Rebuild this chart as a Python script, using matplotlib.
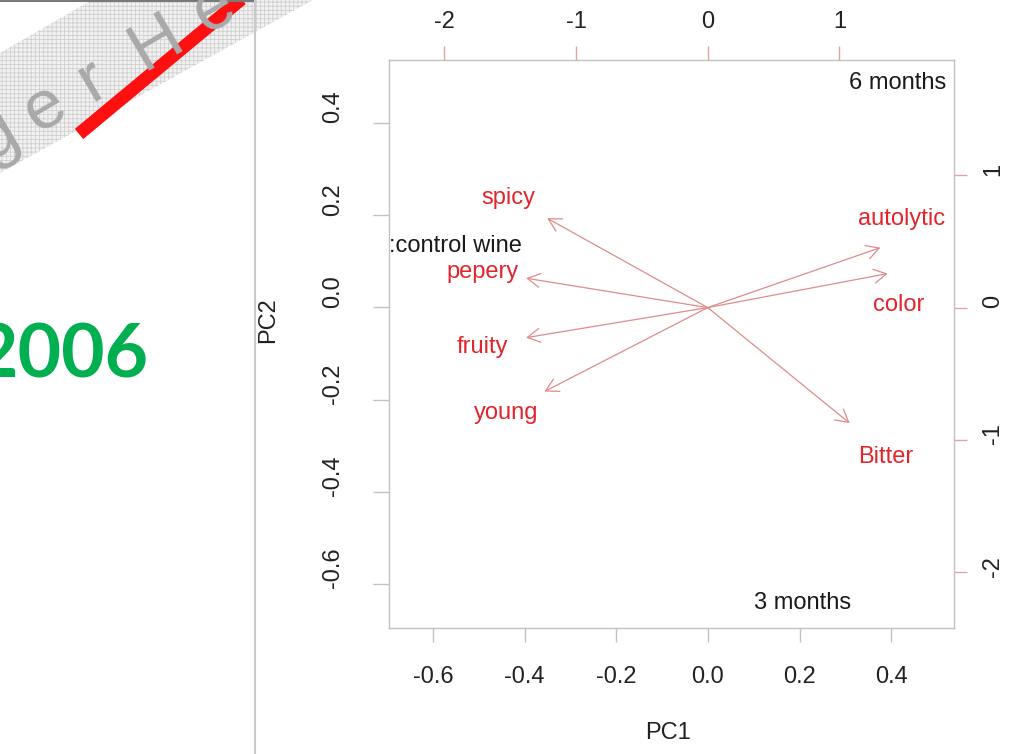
import matplotlib
matplotlib.use('Agg')
import matplotlib.pyplot as plt
from matplotlib.patches import Polygon
from matplotlib.transforms import ScaledTranslation
import numpy as np

plt.rcParams['font.family'] = ['Liberation Sans', 'DejaVu Sans']
plt.rcParams['hatch.linewidth'] = 0.6

# ---------------- data ----------------
variables = ['spicy', 'pepery', 'fruity', 'young', 'autolytic', 'color', 'Bitter']
load_pc1 = [-1.219, -1.379, -1.379, -1.240, 1.311, 1.367, 1.078]
load_pc2 = [0.675, 0.222, -0.227, -0.634, 0.453, 0.257, -0.873]
label_pc1 = [-1.513, -1.711, -1.711, -1.528, 1.471, 1.447, 1.349]
label_pc2 = [0.829, 0.270, -0.297, -0.795, 0.670, 0.020, -1.128]

observations = ['6 months', '3 months']
obs_pc1 = [0.414, 0.206]
obs_pc2 = [0.487, -0.641]
clipped_label = ':control wine'
clipped_pc1 = -0.405
clipped_pc2 = 0.134

pc_ticks = [-0.6, -0.4, -0.2, 0.0, 0.2, 0.4]
pc_ticklabels = ['-0.6', '-0.4', '-0.2', '0.0', '0.2', '0.4']
var_ticks = [-2, -1, 0, 1]
var_ticklabels = ['-2', '-1', '0', '1']
pc_lim = (-0.696, 0.537)
var_lim = (-2.42, 1.87)

year_text = '2006'
watermark_chars = ['g', 'e', 'r', 'H', 'e']
# --------------------------------------

W, H = 1023, 754
fig = plt.figure(figsize=(W / 100, H / 100), dpi=100)

# slide decorations
deco = fig.add_axes([0, 0, 1, 1], zorder=0)
deco.set_xlim(0, W)
deco.set_ylim(H, 0)
deco.axis('off')
band = Polygon([(0, 53), (92, 0), (313, 0), (0, 173)], closed=True,
               facecolor='#f2f2f2', edgecolor='#d0d0d0', hatch='++++', lw=0)
deco.add_patch(band)
ang = 30.4
d = np.array([np.cos(np.radians(ang)), -np.sin(np.radians(ang))])
base = np.array([45, 108])
for ch, s in zip(watermark_chars, [-56, 0, 55, 128, 196]):
    p = base + s * d
    deco.text(p[0], p[1], ch, rotation=ang, fontsize=50, color='#a9a9a9',
              ha='center', va='center', rotation_mode='anchor')
deco.plot([79, 262], [134, -18], color='#ff1010', lw=9.5, solid_capstyle='butt')
deco.plot([0, 255], [1, 1], color='#7a7a7a', lw=1.5)
deco.plot([255, 255], [0, H], color='#c9c9c9', lw=1.5)
deco.text(148, 377, year_text, fontsize=54, fontweight='bold', color='#00b050',
          family='Lato', ha='right', va='baseline')

rect = [389 / W, 126 / H, 565 / W, 568 / H]
tick_col = '#c2c2c2'
red_tick = '#e4a3a3'
lab_col = '#222222'

# primary axes (observations)
ax = fig.add_axes(rect, zorder=1)
ax.set_xlim(pc_lim)
ax.set_ylim(pc_lim)
for sp in ax.spines.values():
    sp.set_color(tick_col)
    sp.set_linewidth(1.0)
ax.set_xticks(pc_ticks)
ax.set_xticklabels(pc_ticklabels)
ax.set_yticks(pc_ticks)
ax.set_yticklabels(pc_ticklabels, rotation=90)
ax.tick_params(axis='x', length=10, width=1, color=tick_col, labelsize=17,
               labelcolor=lab_col, pad=25)
ax.tick_params(axis='y', length=11.5, width=1, color=tick_col, labelsize=17,
               labelcolor=lab_col, pad=29)
for t in ax.get_xticklabels():
    t.set_va('center')
off = ScaledTranslation(0, 16 / 100, fig.dpi_scale_trans)
for t in ax.get_yticklabels():
    t.set_ha('center')
    t.set_va('center')
    t.set_transform(t.get_transform() + off)
ax.set_xlabel('PC1', fontsize=17, color=lab_col)
ax.set_ylabel('PC2', fontsize=17, color=lab_col)
ax.xaxis.set_label_coords((668 - 389) / 565, (628 - 733) / 568)
ax.yaxis.set_label_coords((268 - 389) / 565, (628 - 320) / 568)
ax.xaxis.label.set_va('center')
ax.yaxis.label.set_va('center')

for name, x, y in zip(observations, obs_pc1, obs_pc2):
    ax.text(x, y, name, fontsize=17, color='#1a1a1a', ha='center', va='center')
ax.text(clipped_pc1, clipped_pc2, clipped_label, fontsize=17, color='#1a1a1a',
        ha='right', va='center', clip_on=True)

# secondary axes (variables)
ax2 = fig.add_axes(rect, frameon=False, zorder=2)
ax2.patch.set_visible(False)
ax2.set_xlim(var_lim)
ax2.set_ylim(var_lim)
ax2.xaxis.tick_top()
ax2.yaxis.tick_right()
ax2.set_xticks(var_ticks)
ax2.set_xticklabels(var_ticklabels)
ax2.set_yticks(var_ticks)
ax2.set_yticklabels(var_ticklabels, rotation=90)
ax2.tick_params(axis='x', length=10, width=1, color=red_tick, labelsize=17,
                labelcolor=lab_col, pad=17)
ax2.tick_params(axis='y', length=9.4, width=1, color=red_tick, labelsize=17,
                labelcolor=lab_col, pad=19)
for t in ax2.get_xticklabels():
    t.set_va('center')
off2 = ScaledTranslation(0, 6 / 100, fig.dpi_scale_trans)
for t in ax2.get_yticklabels():
    t.set_ha('center')
    t.set_va('center')
    t.set_transform(t.get_transform() + off2)

for u, v in zip(load_pc1, load_pc2):
    ax2.annotate('', xy=(u, v), xytext=(0, 0),
                 arrowprops=dict(arrowstyle='->,head_length=0.9,head_width=0.5',
                                 color='#e08b8b', lw=0.9, shrinkA=0, shrinkB=0,
                                 mutation_scale=10))
for name, x, y in zip(variables, label_pc1, label_pc2):
    ax2.text(x, y, name, fontsize=17, color='#e3242b', ha='center', va='center')

fig.savefig('out.png', dpi=100)
